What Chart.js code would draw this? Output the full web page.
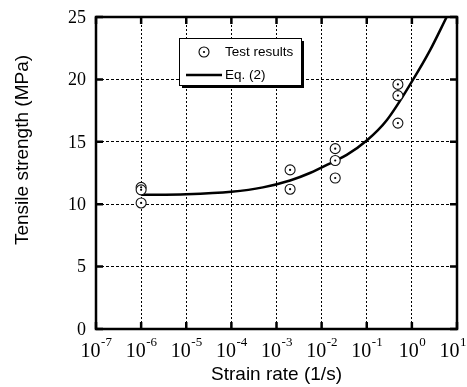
<!DOCTYPE html>
<html>
<head>
<meta charset="utf-8">
<script src="https://cdn.jsdelivr.net/npm/chart.js@4/dist/chart.umd.min.js"></script>
<style>
    html, body { margin: 0; padding: 0; background: #fff; }
    #wrap { width: 467px; height: 387px; }
</style>
</head>
<body>
<div id="wrap"><canvas id="strengthChart" width="467" height="387"></canvas></div>
<script>
// axis ticks
const xTickExponents = [-7, -6, -5, -4, -3, -2, -1, 0, 1];
const yTickValues = [0, 5, 10, 15, 20, 25];

// test results
const testRate = [1e-6, 1e-6, 1e-6, 2e-3, 2e-3, 0.02, 0.02, 0.02, 0.49, 0.49, 0.49];
const testStrength = [11.35, 11.15, 10.1, 12.75, 11.2, 14.45, 13.5, 12.1, 19.6, 18.7, 16.5];

// Eq. (2) curve
const eqRate = [1e-6, 1e-5, 1e-4, 5e-4, 2e-3, 5.5e-3, 0.018, 0.036, 0.1, 0.28, 1.07, 2.5, 5.9];
const eqStrength = [10.75, 10.8, 11.0, 11.35, 11.9, 12.5, 13.4, 13.95, 15.1, 16.75, 20.0, 22.3, 25.0];

const serif = '"Liberation Serif", "Times New Roman", serif';
const sans = '"Liberation Sans", Arial, sans-serif';

// small dot inside each open circle
const centreDots = {
    id: 'centreDots',
    afterDatasetsDraw(chart) {
        const ctx = chart.ctx;
        const meta = chart.getDatasetMeta(0);
        ctx.save();
        ctx.fillStyle = '#000';
        meta.data.forEach(pt => {
            ctx.beginPath();
            ctx.arc(pt.x, pt.y, 1.1, 0, Math.PI * 2);
            ctx.fill();
        });
        ctx.restore();
    }
};

const decorPlugin = {
    id: 'decor',
    afterDraw(chart) {
        const { ctx, chartArea: a, scales: { x, y } } = chart;
        ctx.save();

        // frame + inward ticks
        ctx.strokeStyle = '#000';
        ctx.lineWidth = 2.5;
        ctx.setLineDash([]);
        ctx.beginPath();
        ctx.moveTo(a.left, a.top);
        ctx.lineTo(a.right, a.top);
        ctx.lineTo(a.right, a.bottom);
        ctx.lineTo(a.left, a.bottom);
        ctx.closePath();
        ctx.stroke();

        ctx.beginPath();
        xTickExponents.forEach(e => {
            const px = x.getPixelForValue(Math.pow(10, e));
            ctx.moveTo(px, a.bottom); ctx.lineTo(px, a.bottom - 7);
            ctx.moveTo(px, a.top); ctx.lineTo(px, a.top + 7);
        });
        yTickValues.forEach(v => {
            const py = y.getPixelForValue(v);
            ctx.moveTo(a.left, py); ctx.lineTo(a.left + 7, py);
            ctx.moveTo(a.right, py); ctx.lineTo(a.right - 7, py);
        });
        ctx.stroke();

        // y tick labels
        ctx.fillStyle = '#000';
        ctx.font = '18px ' + serif;
        ctx.textAlign = 'right';
        ctx.textBaseline = 'middle';
        yTickValues.forEach(v => ctx.fillText(String(v), a.left - 10, y.getPixelForValue(v) + 1));

        // x tick labels: 10 with superscript exponent
        ctx.textAlign = 'left';
        ctx.textBaseline = 'alphabetic';
        xTickExponents.forEach(e => {
            const px = x.getPixelForValue(Math.pow(10, e));
            const base = '10';
            const sup = (e < 0 ? '-' : '') + Math.abs(e);
            ctx.font = '20px ' + serif;
            const w1 = ctx.measureText(base).width;
            ctx.font = '13px ' + serif;
            const w2 = ctx.measureText(sup).width;
            let start = px - (w1 + w2) / 2;
            if (start + w1 + w2 > chart.width - 1) start = chart.width - 1 - w1 - w2;
            ctx.font = '20px ' + serif;
            ctx.fillText(base, start, a.bottom + 28);
            ctx.font = '13px ' + serif;
            ctx.fillText(sup, start + w1 + 0.5, a.bottom + 17);
        });

        // axis titles
        ctx.font = '19px ' + sans;
        ctx.textAlign = 'center';
        ctx.fillText('Strain rate (1/s)', (a.left + a.right) / 2, 380);
        ctx.save();
        ctx.translate(28, 150);
        ctx.rotate(-Math.PI / 2);
        ctx.fillText('Tensile strength (MPa)', 0, 0);
        ctx.restore();

        // legend box with shadow
        const lx = 179.5, ly = 38.5, lw = 122, lh = 47;
        ctx.fillStyle = '#000';
        ctx.fillRect(lx + 2.5, ly + 2.5, lw, lh);
        ctx.fillStyle = '#fff';
        ctx.fillRect(lx, ly, lw, lh);
        ctx.lineWidth = 1;
        ctx.strokeStyle = '#000';
        ctx.strokeRect(lx, ly, lw, lh);

        ctx.beginPath();
        ctx.arc(204, 52, 5, 0, Math.PI * 2);
        ctx.lineWidth = 1.1;
        ctx.stroke();
        ctx.fillStyle = '#000';
        ctx.beginPath();
        ctx.arc(204, 52, 1.1, 0, Math.PI * 2);
        ctx.fill();

        ctx.lineWidth = 2.5;
        ctx.beginPath();
        ctx.moveTo(186, 75);
        ctx.lineTo(222, 75);
        ctx.stroke();

        ctx.font = '13.5px ' + sans;
        ctx.textAlign = 'left';
        ctx.textBaseline = 'middle';
        ctx.fillText('Test results', 225, 52);
        ctx.fillText('Eq. (2)', 225, 75);

        ctx.restore();
    }
};

new Chart(document.getElementById('strengthChart'), {
    type: 'scatter',
    data: {
        datasets: [
            {
                label: 'Test results',
                data: testRate.map((r, i) => ({ x: r, y: testStrength[i] })),
                pointStyle: 'circle',
                pointRadius: 5,
                pointBorderWidth: 1.1,
                pointBorderColor: '#111',
                pointBackgroundColor: '#fff',
                order: 0
            },
            {
                label: 'Eq. (2)',
                type: 'line',
                data: eqRate.map((r, i) => ({ x: r, y: eqStrength[i] })),
                borderColor: '#000',
                borderWidth: 2.5,
                pointRadius: 0,
                fill: false,
                cubicInterpolationMode: 'monotone',
                order: 1
            }
        ]
    },
    options: {
        responsive: false,
        animation: false,
        events: [],
        layout: { padding: { top: 17, right: 10, left: 0, bottom: 0 } },
        plugins: {
            legend: { display: false },
            tooltip: { enabled: false }
        },
        scales: {
            x: {
                type: 'logarithmic',
                min: 1e-7,
                max: 10,
                afterBuildTicks: scale => {
                    scale.ticks = xTickExponents.map(e => ({ value: Math.pow(10, e) }));
                },
                afterFit: scale => { scale.height = 58; },
                ticks: { display: false },
                grid: { color: '#000', lineWidth: 1, drawTicks: false },
                border: { display: false, dash: [2, 2] }
            },
            y: {
                min: 0,
                max: 25,
                afterBuildTicks: scale => {
                    scale.ticks = yTickValues.map(v => ({ value: v }));
                },
                afterFit: scale => { scale.width = 96; },
                ticks: { display: false },
                grid: { color: '#000', lineWidth: 1, drawTicks: false },
                border: { display: false, dash: [3, 2] }
            }
        }
    },
    plugins: [centreDots, decorPlugin]
});
</script>
</body>
</html>
